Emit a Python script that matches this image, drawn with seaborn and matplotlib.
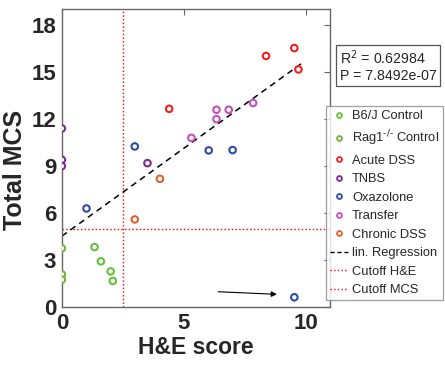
import numpy as np
import pandas as pd
import matplotlib
matplotlib.use("Agg")
import matplotlib.pyplot as plt
from matplotlib.lines import Line2D
import seaborn as sns

# dati
b6_x = [1.34, 1.60, 2.00, 2.09]
b6_y = [3.82, 2.91, 2.27, 1.66]
rag_x = [0.0, 0.0, 0.0]
rag_y = [3.74, 2.08, 1.74]
acute_x = [4.40, 8.37, 9.53, 9.70]
acute_y = [12.63, 16.0, 16.5, 15.14]
tnbs_x = [0.0, 0.0, 0.0, 3.51]
tnbs_y = [11.38, 9.38, 8.98, 9.17]
oxa_x = [1.01, 2.99, 6.02, 7.00, 9.53]
oxa_y = [6.28, 10.23, 9.98, 10.0, 0.62]
transfer_x = [5.31, 6.34, 6.34, 6.84, 7.84]
transfer_y = [10.78, 12.57, 11.97, 12.57, 13.0]
chronic_x = [2.99, 4.02]
chronic_y = [5.58, 8.17]

groups = ["B6/J Control", r"Rag1$^{\text{-/-}}$ Control", "Acute DSS", "TNBS",
          "Oxazolone", "Transfer", "Chronic DSS"]
colors = ["#62c23a", "#79b043", "#ee2020", "#7a2c98", "#2c4ca6", "#c24fba", "#e2622a"]

cutoff_he = 2.5
cutoff_mcs = 5.0
r2_text = "R$^2$ = 0.62984\nP = 7.8492e-07"

# outlier (freccia)
outlier = (9.53, 0.62)
arrow_start = (6.3, 0.98)

rows = []
for g, xs, ys in zip(groups,
                     [b6_x, rag_x, acute_x, tnbs_x, oxa_x, transfer_x, chronic_x],
                     [b6_y, rag_y, acute_y, tnbs_y, oxa_y, transfer_y, chronic_y]):
    for a, b in zip(xs, ys):
        rows.append((g, a, b))
df = pd.DataFrame(rows, columns=["group", "he", "mcs"])

sns.set_style("white")
plt.rcParams["font.family"] = ["Liberation Sans", "DejaVu Sans"]

fig = plt.figure(figsize=(4.45, 3.69), dpi=100)
ax = fig.add_axes([0.139, 0.168, 0.603, 0.808])

sns.scatterplot(data=df, x="he", y="mcs", hue="group", palette=dict(zip(groups, colors)),
                hue_order=groups, s=22, linewidth=1.5, legend=False, ax=ax, zorder=3)
coll = ax.collections[0]
fc = coll.get_facecolors()
coll.set_edgecolors(fc)
coll.set_facecolors("white")

# regressione lineare (senza outlier)
fit = df[~((df.he == outlier[0]) & (df.mcs == outlier[1]))]
k, q = np.polyfit(fit.he, fit.mcs, 1)
xx = np.array([0, df.he.max() + 0.2])
ax.plot(xx, k * xx + q, color="black", ls=(0, (4, 3)), lw=1.1, zorder=2)

ax.axvline(cutoff_he, color="red", ls=":", lw=1.0, zorder=1)
ax.axhline(cutoff_mcs, color="red", ls=":", lw=1.0, zorder=1)

ax.annotate("", xy=(outlier[0] - 0.6, outlier[1] + 0.18), xytext=arrow_start,
            arrowprops=dict(arrowstyle="-|>", color="black", lw=0.8, mutation_scale=8))

ax.set_xlim(0, 11)
ax.set_ylim(0, 19)
ax.set_xticks([0, 5, 10])
ax.set_yticks([0, 3, 6, 9, 12, 15, 18])
ax.tick_params(direction="in", length=4, top=True, right=True, width=0.8,
               color="#666666", labelsize=16, pad=4)
for lab in ax.get_xticklabels() + ax.get_yticklabels():
    lab.set_fontweight("bold")
for sp in ax.spines.values():
    sp.set_color("#666666")
    sp.set_linewidth(1.0)
ax.set_xlabel("H&E score", fontsize=16.5, fontweight="bold", labelpad=2)
ax.set_ylabel("Total MCS", fontsize=18, fontweight="bold")
ax.yaxis.set_label_coords(-0.13, 0.46)

fig.text(0.763, 0.869, r2_text, fontsize=10.2, va="top", ha="left", linespacing=1.15,
         bbox=dict(boxstyle="square,pad=0.25", fc="white", ec="#555555", lw=0.9))

handles = [Line2D([], [], ls="", marker="o", ms=3.5, mfc="white", mec=c, mew=1.3)
           for c in colors]
handles += [Line2D([], [], color="black", ls=(0, (3, 2)), lw=1.0),
            Line2D([], [], color="red", ls=":", lw=1.0),
            Line2D([], [], color="red", ls=":", lw=1.0)]
labels = groups + ["lin. Regression", "Cutoff H&E", "Cutoff MCS"]
leg = fig.legend(handles, labels, loc="upper left", bbox_to_anchor=(0.733, 0.712),
                 fontsize=9.3, frameon=True, fancybox=False, handlelength=1.4,
                 handletextpad=0.3, labelspacing=0.5, borderpad=0.3, borderaxespad=0)
leg.get_frame().set_edgecolor("#888888")
leg.get_frame().set_linewidth(0.9)

fig.savefig("out.png", dpi=100)
